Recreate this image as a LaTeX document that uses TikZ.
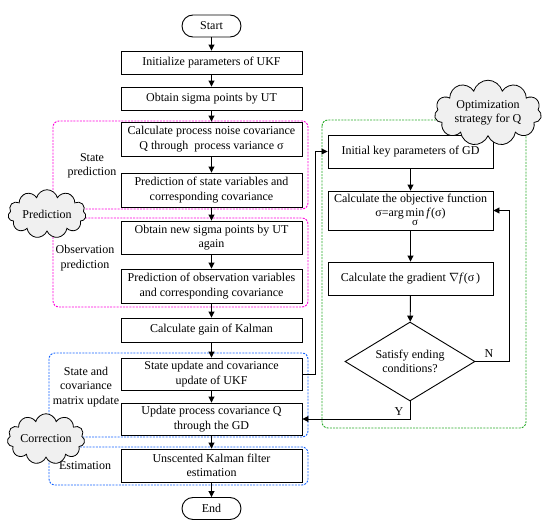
\documentclass[tikz,border=0pt]{standalone}
\usepackage{fontspec}
\setmainfont{Liberation Serif}
\usetikzlibrary{shapes.geometric,shapes.symbols,arrows.meta}
\newcommand\fs{\fontsize{12}{14.5}\selectfont}
\begin{document}
\begin{tikzpicture}[x=1pt,y=-1pt,
  box/.style={draw,line width=0.9pt,minimum width=181pt,align=center,inner sep=1pt,font=\fs},
  rbox/.style={draw,line width=0.9pt,minimum width=165pt,align=center,inner sep=1pt,font=\fs},
  term/.style={draw,line width=0.9pt,rounded corners=11pt,minimum width=59pt,minimum height=22pt,font=\fs},
  lbl/.style={align=center,font=\fs,inner sep=0pt},
  arr/.style={line width=0.9pt,-{Triangle[length=6pt,width=6pt]}},
  reg/.style={line width=0.9pt,dash pattern=on 2pt off 1.2pt,rounded corners=6pt},
  cld/.style={cloud,cloud puffs=11,aspect=2,draw,line width=0.8pt,fill=gray!12,font=\fs,inner sep=0pt,align=center}
]
\useasboundingbox (0,0) rectangle (550,530);
% regions
\draw[reg,draw={rgb,255:red,255;green,0;blue,220}] (53,121) rectangle (308,209);
\draw[reg,draw={rgb,255:red,255;green,0;blue,220}] (53,218) rectangle (308,307);
\draw[reg,draw={rgb,255:red,20;green,100;blue,255}] (49,353) rectangle (308,437);
\draw[reg,draw={rgb,255:red,20;green,100;blue,255}] (49,447) rectangle (308,485);
\draw[reg,draw={rgb,255:red,40;green,170;blue,40}] (322,120) rectangle (526,428);
% main column
\node[term] (start) at (211.5,26) {Start};
\node[box,minimum height=23pt] (b1) at (211.5,62.5) {Initialize parameters of UKF};
\node[box,minimum height=23pt] (b2) at (211.5,98.5) {Obtain sigma points by UT};
\node[box,minimum height=34pt] (b3) at (211.5,139) {Calculate process noise covariance\\Q through\ \ process variance σ};
\node[box,minimum height=34pt] (b4) at (211.5,190) {Prediction of state variables and\\corresponding covariance};
\node[box,minimum height=33pt] (b5) at (211.5,237.5) {Obtain new sigma points by UT\\again};
\node[box,minimum height=34pt] (b6) at (211.5,286) {Prediction of observation variables\\and corresponding covariance};
\node[box,minimum height=24pt] (b7) at (211.5,330) {Calculate gain of Kalman};
\node[box,minimum height=32pt] (b8) at (211.5,374) {State update and covariance\\update of UKF};
\node[box,minimum height=32pt] (b9) at (211.5,419) {Update process covariance Q\\through the GD};
\node[box,minimum height=33pt] (b10) at (211.5,465.5) {Unscented Kalman filter\\estimation};
\node[term] (end) at (211.5,508.5) {End};
% labels
\node[lbl] (lsp) at (92,166) {State\\prediction};
\node[lbl] (lop) at (85,258) {Observation\\prediction};
\node[lbl] (lsc) at (86,387) {State and\\covariance\\matrix update};
\node[lbl] (les) at (85,466) {Estimation};
% right column
\node[rbox,minimum height=39pt] (r2) at (410.5,210.5) {Calculate the objective function\\σ=arg\,$\mathop{\hbox{min}}\limits_{\raisebox{-3pt}{\fontsize{11}{12}\selectfont σ}}$\,\textit{f}(σ)};
\node[rbox,minimum height=33pt] (r1) at (410.5,151.5) {Initial key parameters of GD};
\node[rbox,minimum height=33pt] (r3) at (410.5,278.5) {Calculate the gradient $\nabla$\textit{f}(σ\,)};
\node[diamond,draw,line width=0.9pt,aspect=1.65,minimum width=130pt,minimum height=79pt,inner sep=0pt,align=center,font=\fs] (dia) at (410,361.5) {Satisfy ending\\conditions?};
% clouds
\node[cld,minimum width=78pt,minimum height=41pt] (cpred) at (47,214) {Prediction};
\node[cld,minimum width=77pt,minimum height=36pt] (ccorr) at (46,439) {Correction};
\node[cld,minimum width=107pt,minimum height=40pt] (copt) at (488,113) {Optimization\\strategy for Q};
% arrows
\draw[arr] (start) -- (b1);
\draw[arr] (b1) -- (b2);
\draw[arr] (b2) -- (b3);
\draw[arr] (b3) -- (b4);
\draw[arr] (b4) -- (b5);
\draw[arr] (b5) -- (b6);
\draw[arr] (b6) -- (b7);
\draw[arr] (b7) -- (b8);
\draw[arr] (b8) -- (b9);
\draw[arr] (b9) -- (b10);
\draw[arr] (b10) -- (end);
\draw[arr] (r1) -- (r2);
\draw[arr] (r2) -- (r3);
\draw[arr] (r3) -- (dia);
\draw[arr] (b8.east) -- (315,374) |- (r1.west);
\draw[arr] (dia.east) -- (509,361.5) |- (r2.east);
\draw[arr] (dia.south) |- (b9.east);
\node[lbl] (ln) at (489,354) {N};
\node[lbl] (ly) at (399,412) {Y};
\end{tikzpicture}
\end{document}
